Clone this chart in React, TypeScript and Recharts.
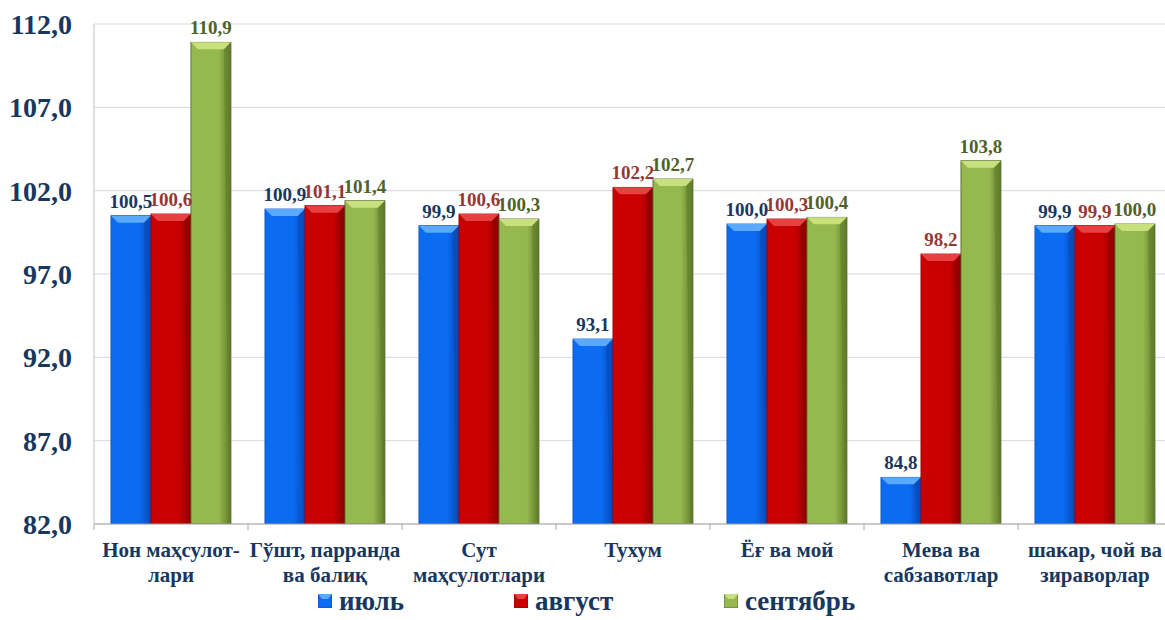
import React from "react";
import { BarChart, Bar, XAxis, YAxis, CartesianGrid, LabelList } from "recharts";

const categories = [
  "Нон маҳсулот-\nлари",
  "Гўшт, парранда\nва балиқ",
  "Сут\nмаҳсулотлари",
  "Тухум",
  "Ёғ ва мой",
  "Мева ва\nсабзавотлар",
  "шакар, чой ва\nзираворлар",
];

const july = [100.5, 100.9, 99.9, 93.1, 100.0, 84.8, 99.9];
const august = [100.6, 101.1, 100.6, 102.2, 100.3, 98.2, 99.9];
const september = [110.9, 101.4, 100.3, 102.7, 100.4, 103.8, 100.0];

const seriesNames = ["июль", "август", "сентябрь"];
const yTicks = [82, 87, 92, 97, 102, 107, 112];

const SERIES = [
  { key: "july", main: "#0b6cf2", light: "#5aa9ff", dark: "#0848b8", edge: "#0a4fc0", label: "#17375e" },
  { key: "august", main: "#c80000", light: "#e84040", dark: "#8c0000", edge: "#900000", label: "#953735" },
  { key: "september", main: "#95b84f", light: "#c8e07e", dark: "#5f7a2a", edge: "#4f6228", label: "#4f6228" },
];

const data = categories.map((name, i) => ({
  name,
  july: july[i],
  august: august[i],
  september: september[i],
}));

const FONT = "'Liberation Serif', 'Times New Roman', serif";
const NAVY = "#17375e";
const CHART_W = 1180;
const PLOT_LEFT = 94;
const PLOT_RIGHT = 1172;
const BAND = (PLOT_RIGHT - PLOT_LEFT) / categories.length;

const fmt = (v: number) => v.toFixed(1).replace(".", ",");

function makeShape(idx: number) {
  const s = SERIES[idx];
  return (props: any) => {
    const { x, y, width, height } = props;
    if (height <= 0) return null;
    const b = Math.min(7, width / 4, height / 2);
    return (
      <g>
        <rect x={x} y={y} width={width} height={height} fill={`url(#grad-${s.key})`} stroke={s.edge} strokeWidth={0.8} />
        <polygon
          points={`${x},${y} ${x + width},${y} ${x + width - b},${y + b} ${x + b},${y + b}`}
          fill={s.light}
        />
        <polygon
          points={`${x + width},${y} ${x + width},${y + height} ${x + width - 2},${y + height} ${x + width - b},${y + b}`}
          fill={s.dark}
          opacity={0.5}
        />
      </g>
    );
  };
}

const shapes = SERIES.map((_, i) => makeShape(i));

function CategoryTick(props: any) {
  const { x, y, payload } = props;
  const lines = String(payload.value).split("\n");
  return (
    <g>
      <line x1={x - BAND / 2} y1={y} x2={x - BAND / 2} y2={y + 6} stroke="#a6a6a6" />
      {lines.map((ln, i) => (
        <text
          key={i}
          x={x}
          y={y + 33 + i * 25}
          textAnchor="middle"
          fill={NAVY}
          fontFamily={FONT}
          fontWeight="bold"
          fontSize={21}
        >
          {ln}
        </text>
      ))}
    </g>
  );
}

function LegendSquare({ idx }: { idx: number }) {
  const s = SERIES[idx];
  return (
    <svg width={14} height={14} style={{ display: "block" }}>
      <rect x={0} y={0} width={14} height={14} fill={s.main} stroke={s.edge} strokeWidth={0.8} />
      <polygon points="0,0 14,0 10,5 4,5" fill={s.light} />
    </svg>
  );
}

const legendLeft = [318, 514, 724];

export default function App() {
  return (
    <div style={{ position: "absolute", left: 0, top: 0, width: 1165, height: 620, overflow: "hidden", background: "#fff" }}>
      <BarChart
        width={CHART_W}
        height={620}
        data={data}
        margin={{ top: 24, right: CHART_W - PLOT_RIGHT, bottom: 0, left: 0 }}
        barCategoryGap="11%"
        barGap={0}
      >
        <defs>
          {SERIES.map((s) => (
            <linearGradient key={s.key} id={`grad-${s.key}`} x1="0" y1="0" x2="1" y2="0">
              <stop offset="0%" stopColor={s.main} />
              <stop offset="70%" stopColor={s.main} />
              <stop offset="100%" stopColor={s.dark} />
            </linearGradient>
          ))}
        </defs>
        <CartesianGrid vertical={false} stroke="#d9d9d9" />
        <XAxis
          dataKey="name"
          interval={0}
          height={96}
          tickSize={0}
          tickMargin={0}
          tickLine={false}
          axisLine={{ stroke: "#a6a6a6" }}
          tick={<CategoryTick />}
        />
        <YAxis
          domain={[82, 112]}
          ticks={yTicks}
          width={PLOT_LEFT}
          allowDataOverflow
          tickSize={0}
          tickMargin={22}
          tickLine={false}
          axisLine={{ stroke: "#bfbfbf" }}
          tickFormatter={(v: number) => fmt(v)}
          tick={{ fill: NAVY, fontFamily: FONT, fontWeight: "bold", fontSize: 28 }}
        />
        {SERIES.map((s, i) => (
          <Bar key={s.key} dataKey={s.key} name={seriesNames[i]} fill={s.main} shape={shapes[i]} isAnimationActive={false}>
            <LabelList
              dataKey={s.key}
              position="top"
              offset={8}
              formatter={(v: any) => fmt(Number(v))}
              fill={s.label}
              style={{ fontFamily: FONT, fontWeight: "bold", fontSize: 19 }}
            />
          </Bar>
        ))}
      </BarChart>
      {seriesNames.map((n, i) => (
        <div
          key={n}
          style={{
            position: "absolute",
            left: legendLeft[i],
            top: 587,
            display: "flex",
            alignItems: "center",
            gap: 7,
            fontFamily: FONT,
            fontWeight: "bold",
            fontSize: 27,
            color: NAVY,
            lineHeight: "28px",
          }}
        >
          <LegendSquare idx={i} />
          <span>{n}</span>
        </div>
      ))}
    </div>
  );
}
